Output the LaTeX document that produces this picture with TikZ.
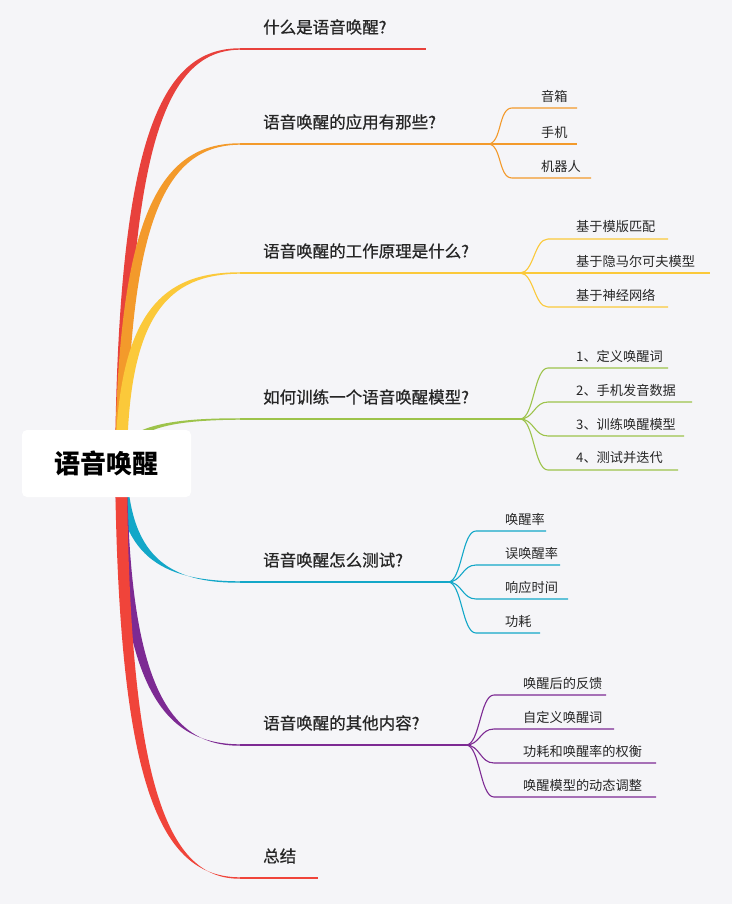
\documentclass[tikz,border=0pt]{standalone}
\usepackage{fontspec}
\setmainfont{Noto Sans CJK SC}
\newfontfamily\mainf{Noto Sans CJK SC}[FakeBold=0.7]
\usetikzlibrary{calc}
\definecolor{bg}{HTML}{F5F5F8}
\definecolor{cA}{HTML}{E8413C}
\definecolor{cB}{HTML}{F39A2B}
\definecolor{cC}{HTML}{FBC93A}
\definecolor{cD}{HTML}{9DC34B}
\definecolor{cE}{HTML}{13A7C8}
\definecolor{cF}{HTML}{7D2A93}
\definecolor{cG}{HTML}{F0443A}
\newcommand\mmbranch[2]{%
  \pgfmathsetmacro\cya{#2+0.22*(463-#2)}%
  \fill[#1] (115,463) .. controls (118,\cya) and (160,{#2-1}) .. (240,{#2-0.7})
     -- (240,{#2+0.7}) .. controls (168,{#2+1.2}) and (128,\cya) .. (127,463) -- cycle;}
\begin{document}
\begin{tikzpicture}[x=1pt,y=-1pt,
  main/.style={anchor=west,inner sep=0,font=\mainf\fontsize{16.5}{19}\selectfont,text=black!85},
  sub/.style={anchor=west,inner sep=0,font=\fontsize{13.2}{15}\selectfont,text=black!85},
  uline/.style={line width=1.3pt},
  sline/.style={line width=1.1pt},
  root/.style={fill=white,rounded corners=5pt,minimum width=169pt,minimum height=67pt,font=\fontsize{26}{30}\selectfont\bfseries}]
\useasboundingbox (0,0) rectangle (732,904);
\fill[bg] (0,0) rectangle (732,904);
% branches
\mmbranch{cA}{49}
\mmbranch{cB}{144}
\mmbranch{cC}{273}
\mmbranch{cD}{419}
\mmbranch{cE}{582}
\mmbranch{cF}{745}
\mmbranch{cG}{878}
\node[root] (r) at (106.5,463.5) {语音唤醒};
% main labels and underlines
\coordinate (a1) at (240,49);  \coordinate (e1) at (426,49);
\coordinate (a2) at (240,144); \coordinate (e2) at (488,144);
\coordinate (a3) at (240,273); \coordinate (e3) at (520,273);
\coordinate (a4) at (240,419); \coordinate (e4) at (520,419);
\coordinate (a5) at (240,582); \coordinate (e5) at (448,582);
\coordinate (a6) at (240,745); \coordinate (e6) at (466,745);
\coordinate (a7) at (240,878); \coordinate (e7) at (318,878);
\draw[uline,cA] (a1) -- (e1); \node[main] (m1) at (263,27) {什么是语音唤醒?};
\draw[uline,cB] (a2) -- (e2); \node[main] (m2) at (263,122) {语音唤醒的应用有那些?};
\draw[uline,cC] (a3) -- (e3); \node[main] (m3) at (263,251) {语音唤醒的工作原理是什么?};
\draw[uline,cD] (a4) -- (e4); \node[main] (m4) at (263,397) {如何训练一个语音唤醒模型?};
\draw[uline,cE] (a5) -- (e5); \node[main] (m5) at (263,560) {语音唤醒怎么测试?};
\draw[uline,cF] (a6) -- (e6); \node[main] (m6) at (263,723) {语音唤醒的其他内容?};
\draw[uline,cG] (a7) -- (e7); \node[main] (m7) at (263,856) {总结};
% children
\foreach \y/\xe/\t [count=\i] in {108/577/音箱,144/577/手机,178/591/机器人}{
  \coordinate (c2\i) at (512,\y);
  \draw[sline,cB] (e2) .. controls +(14,0) and +(-14,0) .. (c2\i) -- (\xe,\y);
  \node[sub] (t2\i) at (541,\y-12) {\t};}
\foreach \y/\xe/\t [count=\i] in {239/668/基于模版匹配,273/710/基于隐马尔可夫模型,307/668/基于神经网络}{
  \coordinate (c3\i) at (548,\y);
  \draw[sline,cC] (e3) .. controls +(14,0) and +(-14,0) .. (c3\i) -- (\xe,\y);
  \node[sub] (t3\i) at (576,\y-12) {\t};}
\foreach \y/\xe/\t [count=\i] in {368/668/1、定义唤醒词,402/692/2、手机发音数据,436/684/3、训练唤醒模型,470/678/4、测试并迭代}{
  \coordinate (c4\i) at (548,\y);
  \draw[sline,cD] (e4) .. controls +(14,0) and +(-14,0) .. (c4\i) -- (\xe,\y);
  \node[sub] (t4\i) at (576,\y-12) {\t};}
\foreach \y/\xe/\t [count=\i] in {531/546/唤醒率,565/560/误唤醒率,599/568/响应时间,633/540/功耗}{
  \coordinate (c5\i) at (476,\y);
  \draw[sline,cE] (e5) .. controls +(14,0) and +(-14,0) .. (c5\i) -- (\xe,\y);
  \node[sub] (t5\i) at (505,\y-12) {\t};}
\foreach \y/\xe/\t [count=\i] in {695/606/唤醒后的反馈,729/614/自定义唤醒词,763/656/功耗和唤醒率的权衡,797/656/唤醒模型的动态调整}{
  \coordinate (c6\i) at (494,\y);
  \draw[sline,cF] (e6) .. controls +(14,0) and +(-14,0) .. (c6\i) -- (\xe,\y);
  \node[sub] (t6\i) at (523,\y-12) {\t};}
\end{tikzpicture}
\end{document}
